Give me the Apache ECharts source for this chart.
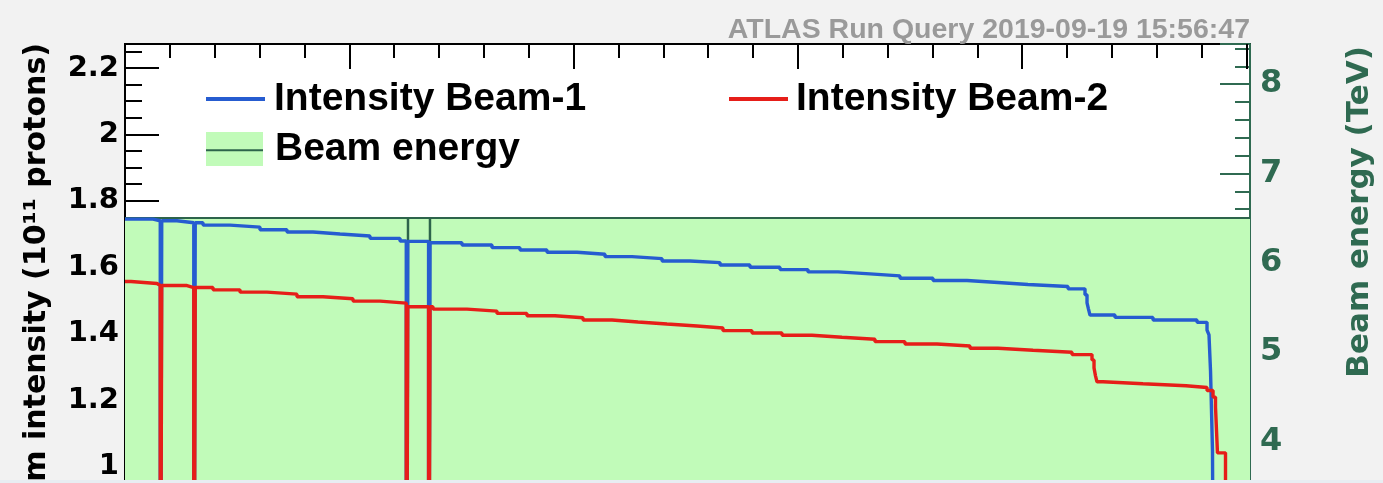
<!DOCTYPE html>
<html><head><meta charset="utf-8">
<script src="https://cdn.jsdelivr.net/npm/echarts@6/dist/echarts.min.js"></script>
<style>
html,body{margin:0;padding:0;background:#f2f2f2;overflow:hidden;width:1383px;height:483px;}
#chart{width:1383px;height:900px;}
#strip{position:fixed;left:0;top:480px;width:1383px;height:3px;background:#e8edf2;z-index:5;}
</style></head><body><div id="chart"></div><div id="strip"></div>
<script>
// Time axis: hours since start of the displayed window (ticks every hour)
const beam1Time = [0,0.624,0.786,0.819,1.159,1.533,1.566,1.739,2.341,3.009,3.611,4.191,4.793,5.461,6.130,6.270,6.303,6.767,6.800,7.512,8.181,8.805,9.407,10.076,10.700,11.302,11.971,12.595,13.264,13.932,14.601,15.225,15.894,16.607,17.276,18.012,18.770,19.461,20.129,21.021,21.400,21.445,21.478,21.511,22.069,22.916,23.897,24.120,24.164,24.198,24.242,24.276,25.078];
const beam1Intensity = [1.745,1.740,0,1.740,1.734,0,1.734,1.727,1.721,1.713,1.706,1.700,1.694,1.687,1.679,0,1.678,0,1.674,1.667,1.659,1.652,1.645,1.639,1.632,1.626,1.619,1.614,1.607,1.600,1.593,1.586,1.580,1.574,1.567,1.560,1.554,1.548,1.542,1.535,1.517,1.493,1.474,1.456,1.449,1.441,1.434,1.411,1.396,1.288,1.047,0,0];

const beam2Time = [0,0.134,0.713,0.786,0.819,1.382,1.533,1.566,1.962,2.564,3.165,3.834,4.414,5.082,5.684,6.270,6.303,6.767,6.800,6.866,7.624,8.292,8.961,9.585,10.210,10.856,11.436,12.082,12.751,13.330,13.977,14.646,15.314,15.983,16.719,17.387,18.101,18.836,19.461,20.241,21.110,21.556,21.601,21.634,21.667,21.801,22.693,23.652,24.120,24.254,24.309,24.353,24.532,25.078];
const beam2Intensity = [1.557,1.551,1.545,0,1.545,1.539,0,1.539,1.532,1.525,1.519,1.511,1.505,1.498,1.492,0,1.481,0,1.481,1.474,1.468,1.461,1.454,1.448,1.441,1.435,1.429,1.423,1.417,1.409,1.402,1.395,1.389,1.383,1.376,1.369,1.363,1.356,1.350,1.344,1.337,1.321,1.297,1.273,1.255,1.249,1.243,1.238,1.229,1.209,1.179,1.041,0,0];

const energyTime = [0,6.303,6.314,6.793,6.804,25.078];
const beamEnergy = [6.5,0,6.5,0,6.5,6.5];

const intensityTicks = {min:0, max:2.2724, interval:0.2};
const energyTicks = {min:0, max:8.45, interval:1};
const timeRange = {min:0, max:25.078};

const headerText = 'ATLAS Run Query 2019-09-19 15:56:47';
const leftTitle = 'Beam intensity (10¹¹ protons)';
const rightTitle = 'Beam energy (TeV)';
const names = {b1:'Intensity Beam-1', b2:'Intensity Beam-2', en:'Beam energy'};

const BLUE = '#265cd0', RED = '#e61e19', FILL = '#c1fbb9', DG = '#2d644b', AXG = '#2f6a51';
const FONT = 'Liberation Sans, Arial, sans-serif';
const DFONT = 'DejaVu Sans, sans-serif';

const zip = (t, v) => t.map((x, i) => [x, v[i]]);

const chart = echarts.init(document.getElementById('chart'), null, {renderer:'canvas'});
const legendBase = {orient:'horizontal', padding:0, selectedMode:false, itemStyle:{borderWidth:0},
  textStyle:{fontFamily:FONT, fontSize:39, fontWeight:'bold', color:'#000'}};

chart.setOption({
  animation:false,
  backgroundColor:'#f2f2f2',
  title:{text:headerText, right:128, top:11, padding:5,
    textStyle:{fontFamily:FONT, fontSize:28.5, fontWeight:'bold', color:'#9a9a9a'}},
  graphic:[
    {type:'text', x:37, y:43, rotation:Math.PI/2, z:20,
      style:{text:leftTitle, font:'bold 30px DejaVu Sans', fill:'#000', align:'right', verticalAlign:'middle'}},
    {type:'text', x:1360, y:46, rotation:Math.PI/2, z:20,
      style:{text:rightTitle, font:'bold 31px DejaVu Sans', fill:AXG, align:'right', verticalAlign:'middle'}}
  ],
  grid:[
    {left:125, top:44, width:1125, height:754.5, show:true, backgroundColor:'#fff', borderColor:'#000', borderWidth:2},
    {left:125, top:44, width:1121.5, height:754.5, show:false}
  ],
  xAxis:[
    {type:'value', gridIndex:0, min:timeRange.min, max:timeRange.max, show:false},
    {type:'value', gridIndex:1, position:'top', min:0, max:25, interval:5, z:10,
      axisLine:{show:false, onZero:false}, axisLabel:{show:false}, splitLine:{show:false},
      axisTick:{show:true, inside:true, length:25, lineStyle:{color:'#000', width:2}},
      minorTick:{show:true, splitNumber:5, length:14, lineStyle:{color:'#000', width:2}}}
  ],
  yAxis:[
    {type:'value', gridIndex:0, position:'left', min:intensityTicks.min, max:intensityTicks.max, interval:intensityTicks.interval,
      axisLine:{show:true, lineStyle:{color:'#000', width:2}},
      axisTick:{show:true, inside:true, length:34, lineStyle:{color:'#000', width:2}},
      minorTick:{show:true, splitNumber:4, length:17, lineStyle:{color:'#000', width:2}},
      splitLine:{show:false},
      axisLabel:{margin:6, color:'#000', fontFamily:DFONT, fontSize:29, fontWeight:'bold', showMaxLabel:false}},
    {type:'value', gridIndex:0, position:'right', min:energyTicks.min, max:energyTicks.max, interval:energyTicks.interval,
      axisLine:{show:true, lineStyle:{color:AXG, width:2}},
      axisTick:{show:true, inside:true, length:30, lineStyle:{color:AXG, width:2}},
      minorTick:{show:true, splitNumber:5, length:15, lineStyle:{color:AXG, width:2}},
      splitLine:{show:false},
      axisLabel:{margin:10, color:AXG, fontFamily:DFONT, fontSize:32, fontWeight:'bold', showMaxLabel:false}},
    {type:'value', gridIndex:1, min:0, max:1, show:false}
  ],
  legend:[
    Object.assign({}, legendBase, {left:206, top:79.5, itemWidth:59, itemHeight:4,
      data:[{name:names.b1, icon:'rect', itemStyle:{color:BLUE, borderWidth:0}}],
      textStyle:Object.assign({}, legendBase.textStyle, {padding:[0,0,6,4]})}),
    Object.assign({}, legendBase, {left:729, top:79.5, itemWidth:59, itemHeight:4,
      data:[{name:names.b2, icon:'rect', itemStyle:{color:RED, borderWidth:0}}],
      textStyle:Object.assign({}, legendBase.textStyle, {padding:[0,0,6,3]})}),
    Object.assign({}, legendBase, {left:206, top:129.5, itemWidth:57, itemHeight:34,
      data:[{name:names.en, icon:'rect', itemStyle:{color:FILL, borderWidth:0}}],
      textStyle:Object.assign({}, legendBase.textStyle, {padding:[0,0,8,7]})}),
    Object.assign({}, legendBase, {left:206, top:130.8, itemWidth:57, itemHeight:2,
      data:[{name:names.en, icon:'rect', itemStyle:{color:DG, borderWidth:0}}],
      textStyle:Object.assign({}, legendBase.textStyle, {padding:[0,0,8,7], color:'rgba(0,0,0,0)'})})
  ],
  series:[
    {name:names.en, type:'line', xAxisIndex:0, yAxisIndex:1, step:'end', data:zip(energyTime, beamEnergy),
      showSymbol:false, symbol:'none', color:DG, lineStyle:{color:DG, width:2}, areaStyle:{color:FILL, opacity:1}},
    {name:names.b1, type:'line', xAxisIndex:0, yAxisIndex:0, step:'end', data:zip(beam1Time, beam1Intensity),
      showSymbol:false, symbol:'none', color:BLUE, lineStyle:{color:BLUE, width:3.4}},
    {name:names.b2, type:'line', xAxisIndex:0, yAxisIndex:0, step:'end', data:zip(beam2Time, beam2Intensity),
      showSymbol:false, symbol:'none', color:RED, lineStyle:{color:RED, width:3.4}}
  ]
});
</script></body></html>
